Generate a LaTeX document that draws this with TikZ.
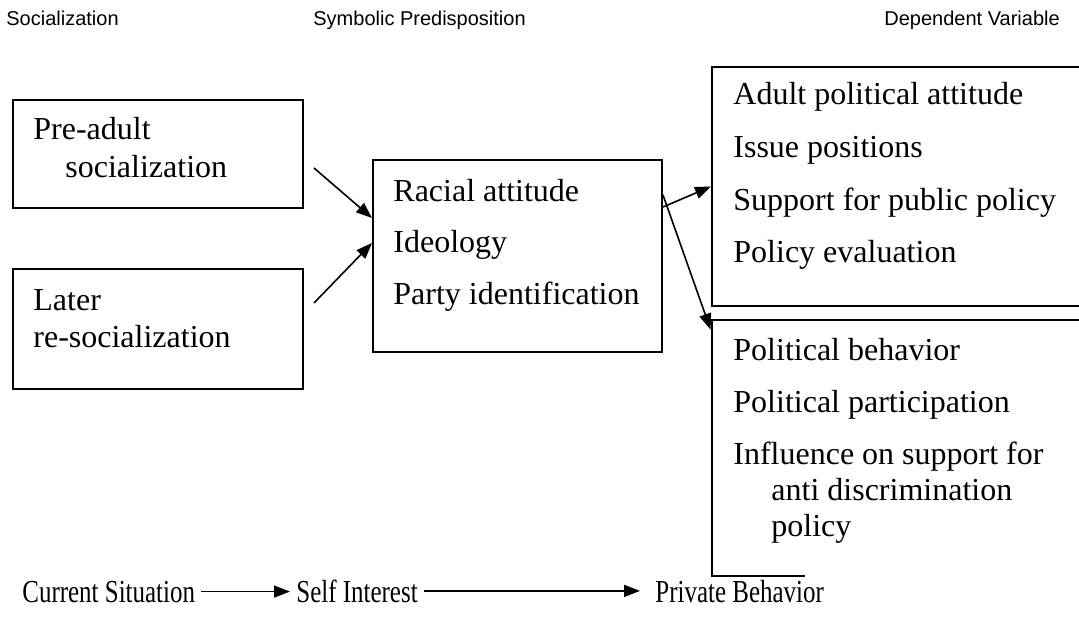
\documentclass[tikz,border=0pt]{standalone}
\usepackage{fontspec}
\setmainfont{Liberation Serif}
\setsansfont{Liberation Sans}
\newfontfamily\narrowfont[FakeStretch=0.78]{Liberation Serif}
\usetikzlibrary{arrows.meta,calc}

\begin{document}
\begin{tikzpicture}[x=0.5pt,y=-0.5pt,
    box/.style={draw,line width=1pt,inner sep=0pt},
    txt/.style={anchor=base west,inner sep=0pt,font=\fontsize{16}{18}\selectfont},
    hdr/.style={anchor=base west,inner sep=0pt,font=\sffamily\fontsize{10}{12}\selectfont},
    bot/.style={anchor=base west,inner sep=3pt,font=\narrowfont\fontsize{16}{18}\selectfont},
    arr/.style={-{Triangle[length=8pt,width=6pt]},line width=0.8pt}]
    \useasboundingbox (0,0) rectangle (1079,620);
    \clip (0,0) rectangle (1079,620);
    % column headings
    \node[hdr] (hsoc) at (6,26) {Socialization};
    \node[hdr] (hsym) at (313,26) {Symbolic Predisposition};
    \node[hdr] (hdep) at (884,26) {Dependent Variable};
    % boxes
    \node[box,minimum width=145pt,minimum height=54pt] (pre) at (158,154) {};
    \node[box,minimum width=145pt,minimum height=60pt] (later) at (158,329) {};
    \node[box,minimum width=144.5pt,minimum height=96pt] (mid) at (517.5,256) {};
    \node[box,minimum width=204pt,minimum height=119.5pt] (adult) at (916,186.5) {};
    \node[inner sep=0pt,minimum width=204pt,minimum height=128pt] (behav) at (916,448) {};
    \draw[line width=1pt] (behav.north east) -- (behav.north west) -- (behav.south west) -- ++(93,0);
    % box texts
    \foreach \x/\y/\t [count=\n] in {33/140/Pre-adult, 65/177/socialization,
        33/310/Later, 33/347/re-socialization,
        393/201/Racial attitude, 393/252/Ideology, 393/304/Party identification,
        733/105/Adult political attitude, 733/158/Issue positions,
        733/210/Support for public policy, 733/262/Policy evaluation,
        733/360/Political behavior, 733/412/Political participation,
        733/464/Influence on support for, 771/500/anti discrimination, 771/536/policy}
    {
        \node[txt] (line\n) at (\x,\y) {\t};
    }
    % links
    \draw[arr] ($(pre.east)+(10,14)$) -- ($(mid.west)+(0,-38)$);
    \draw[arr] ($(later.east)+(10,-26)$) -- ($(mid.west)+(0,-13)$);
    \draw[arr] ($(mid.east)+(0,-49)$) -- (adult.west);
    \draw[arr] ($(mid.east)+(0,-61)$) -- ($(behav.north west)+(-1,10)$);
    % bottom row
    \node[bot] (cur) at (16,602) {Current Situation};
    \node[bot] (self) at (290,602) {Self Interest};
    \node[bot] (priv) at (649,602) {Private Behavior};
    \draw[arr] (cur.east) -- (cur.east -| self.west);
    \draw[arr,shorten >=4.5pt] (self.east) -- (self.east -| priv.west);
\end{tikzpicture}
\end{document}
